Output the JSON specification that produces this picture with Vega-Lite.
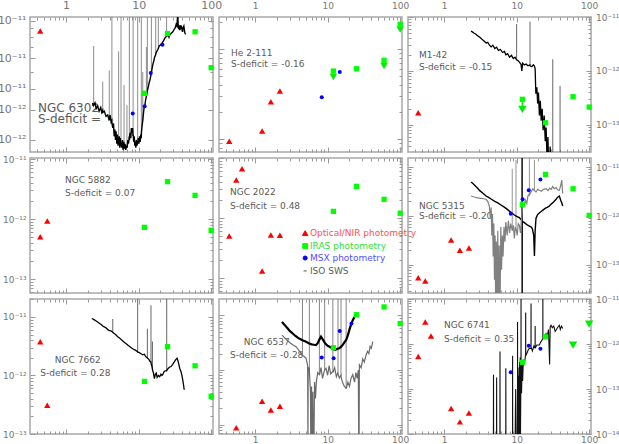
{
"$schema":"https://vega.github.io/schema/vega-lite/v6.json",
"padding":{"left":-4,"top":-2,"right":0,"bottom":0},
"columns":3,
"spacing":{"row":6,"column":6},
"bounds":"flush",
"config":{"view":{"stroke":"#a8a8a8","strokeWidth":1.5},"axis":{"domain":false,"grid":false,"tickColor":"#999999","tickWidth":1,"labelColor":"#777777","labelFont":"DejaVu Sans","labelFontSize":9,"labelFlush":false,"labelOverlap":false},"text":{"font":"DejaVu Sans"}},
"datasets":{
"txt":[
{"p":"6302","k":"lab","l":0.41,"f":3.08e-12,"s":"NGC 6302"},{"p":"6302","k":"lab","l":0.41,"f":2.67e-12,"s":"S-deficit = "},
{"p":"2111","k":"lab","l":0.466,"f":9.0e-13,"s":"He 2-111"},{"p":"2111","k":"lab","l":0.466,"f":6.8e-13,"s":"S-deficit = -0.16"},
{"p":"M142","k":"lab","l":0.45,"f":1.98e-12,"s":"M1-42"},{"p":"M142","k":"lab","l":0.45,"f":1.19e-12,"s":"S-deficit = -0.15"},
{"p":"5882","k":"lab","l":0.966,"f":4.47e-12,"s":"NGC 5882"},{"p":"5882","k":"lab","l":0.966,"f":2.71e-12,"s":"S-deficit = 0.07"},
{"p":"2022","k":"lab","l":0.45,"f":2.71e-12,"s":"NGC 2022"},{"p":"2022","k":"lab","l":0.45,"f":1.58e-12,"s":"S-deficit = 0.48"},
{"p":"2022","k":"opt","l":5.7,"f":5.6e-13,"s":"Optical/NIR photometry"},{"p":"2022","k":"iras","l":5.7,"f":3.41e-13,"s":"IRAS photometry"},
{"p":"2022","k":"msx","l":5.7,"f":2.15e-13,"s":"MSX photometry"},{"p":"2022","k":"iso","l":5.7,"f":1.31e-13,"s":"ISO SWS"},
{"p":"5315","k":"lab","l":0.45,"f":1.6e-12,"s":"NGC 5315"},{"p":"5315","k":"lab","l":0.45,"f":1.02e-12,"s":"S-deficit = -0.20"},
{"p":"7662","k":"lab","l":0.70,"f":1.87e-12,"s":"NGC 7662"},{"p":"7662","k":"lab","l":0.44,"f":1.12e-12,"s":"S-deficit = 0.28"},
{"p":"6537","k":"lab","l":0.70,"f":3.3e-12,"s":"NGC 6537"},{"p":"6537","k":"lab","l":0.45,"f":1.87e-12,"s":"S-deficit = -0.28"},
{"p":"6741","k":"lab","l":1.0,"f":2.67e-12,"s":"NGC 6741"},{"p":"6741","k":"lab","l":1.0,"f":1.31e-12,"s":"S-deficit = 0.35"}
],
"leg":[{"t":"opt","l":4.9,"f":5.6e-13},{"t":"iras","l":4.9,"f":3.41e-13},{"t":"msx","l":4.9,"f":2.15e-13},{"t":"iso","l":4.9,"f":1.31e-13}],
"lim":[
{"p":"2111","l":12,"f":5.7e-13,"a":4.9e-13},{"p":"2111","l":60,"f":7.5e-13,"a":6.5e-13},{"p":"2111","l":100,"f":1.88e-12,"a":1.65e-12},
{"p":"M142","l":12,"f":2.99e-13,"a":1.95e-13},
{"p":"6741","l":60,"f":9.5e-13,"a":9.5e-13},{"p":"6741","l":100,"f":2.77e-12,"a":2.77e-12}
],
"spk":[
{"p":"6302","l":2.4,"f":3.25e-12,"a":7.1e-12},{"p":"6302","l":3.2,"f":2.95e-12,"a":4.4e-12},{"p":"6302","l":3.94,"f":2.65e-12,"a":5.1e-12},{"p":"6302","l":4.28,"f":2.55e-12,"a":2e-11},{"p":"6302","l":5.3,"f":2.0e-12,"a":6.6e-12},{"p":"6302","l":5.72,"f":1.88e-12,"a":2e-11},{"p":"6302","l":6.3,"f":1.9e-12,"a":4.2e-12},{"p":"6302","l":6.9,"f":1.8e-12,"a":3.2e-12},{"p":"6302","l":7.45,"f":2.05e-12,"a":2e-11},{"p":"6302","l":8.4,"f":2.12e-12,"a":2e-11},{"p":"6302","l":9.7,"f":1.92e-12,"a":2e-11},{"p":"6302","l":10.9,"f":2.1e-12,"a":2e-11},{"p":"6302","l":11.4,"f":2.6e-12,"a":5e-12},{"p":"6302","l":12.8,"f":3.6e-12,"a":7e-12},{"p":"6302","l":13.2,"f":3.87e-12,"a":2e-11},{"p":"6302","l":15.0,"f":4.95e-12,"a":2e-11},{"p":"6302","l":17.2,"f":6.35e-12,"a":2e-11},{"p":"6302","l":18.7,"f":6.9e-12,"a":1.2e-11},{"p":"6302","l":24.3,"f":8.1e-12,"a":1.3e-11},
{"p":"M142","l":10.0,"f":1.6e-12,"a":7.4e-12},{"p":"M142","l":15.3,"f":1.28e-12,"a":8.2e-12},{"p":"M142","l":31.5,"f":1e-14,"a":1.65e-12},{"p":"M142","l":39.7,"f":1e-14,"a":5.3e-13},
{"p":"7662","l":4.4,"f":5.45e-12,"a":9.2e-12},{"p":"7662","l":9.7,"f":2.52e-12,"a":2.5e-11},{"p":"7662","l":13.2,"f":1.98e-12,"a":6.3e-12},{"p":"7662","l":14.8,"f":1.65e-12,"a":1.58e-11},{"p":"7662","l":15.5,"f":1.28e-12,"a":3.8e-12},{"p":"7662","l":24.4,"f":1.21e-12,"a":2.5e-11},
{"p":"5315","l":8.7,"f":5.1e-13,"a":9.2e-12},{"p":"5315","l":9.8,"f":5.2e-13,"a":1.4e-11},{"p":"5315","l":15.0,"f":2.75e-12,"a":1.6e-11},{"p":"5315","l":17.6,"f":3.3e-12,"a":1.4e-11},
{"p":"6537","l":4.5,"f":1.88e-12,"a":2e-11},{"p":"6537","l":5.6,"f":1.0e-12,"a":2e-11},{"p":"6537","l":7.7,"f":8.1e-13,"a":2e-11},{"p":"6537","l":9.1,"f":1.0e-12,"a":2e-11},{"p":"6537","l":11.8,"f":9.2e-13,"a":2e-11},{"p":"6537","l":13.9,"f":8.8e-13,"a":2e-11},{"p":"6537","l":15.3,"f":7.8e-13,"a":2e-11},{"p":"6537","l":18.0,"f":4.6e-13,"a":2e-11}
],
"phot":[
{"p":"6302","t":"opt","l":0.44,"f":8.7e-12},{"p":"6302","t":"iras","l":12,"f":3.75e-12},{"p":"6302","t":"iras","l":25,"f":8.4e-12},{"p":"6302","t":"iras","l":60,"f":8.6e-12},{"p":"6302","t":"iras","l":100,"f":5.3e-12},{"p":"6302","t":"msx","l":8.3,"f":2.86e-12},{"p":"6302","t":"msx","l":12.1,"f":3.15e-12},{"p":"6302","t":"msx","l":14.7,"f":4.93e-12},{"p":"6302","t":"msx","l":21.3,"f":7.22e-12},
{"p":"2111","t":"opt","l":0.44,"f":9.5e-14},{"p":"2111","t":"opt","l":1.25,"f":1.23e-13},{"p":"2111","t":"opt","l":1.65,"f":2.6e-13},{"p":"2111","t":"opt","l":2.2,"f":3.42e-13},{"p":"2111","t":"msx","l":8.3,"f":2.91e-13},{"p":"2111","t":"msx","l":14.7,"f":5.55e-13},{"p":"2111","t":"iras","l":12,"f":5.7e-13},{"p":"2111","t":"iras","l":25,"f":6.05e-13},{"p":"2111","t":"iras","l":60,"f":7.5e-13},{"p":"2111","t":"iras","l":100,"f":1.88e-12},
{"p":"M142","t":"opt","l":0.44,"f":1.69e-13},{"p":"M142","t":"iras","l":12,"f":2.99e-13},{"p":"M142","t":"iras","l":25,"f":1.1e-13},{"p":"M142","t":"iras","l":60,"f":3.34e-13},{"p":"M142","t":"iras","l":100,"f":2.15e-13},
{"p":"5882","t":"opt","l":0.44,"f":5.07e-13},{"p":"5882","t":"opt","l":0.55,"f":9.27e-13},{"p":"5882","t":"iras","l":12,"f":7.27e-13},{"p":"5882","t":"iras","l":25,"f":4.19e-12},{"p":"5882","t":"iras","l":60,"f":2.48e-12},{"p":"5882","t":"iras","l":100,"f":6.48e-13},
{"p":"2022","t":"opt","l":0.44,"f":5.0e-13},{"p":"2022","t":"opt","l":0.55,"f":4.3e-12},{"p":"2022","t":"opt","l":0.66,"f":6.64e-12},{"p":"2022","t":"opt","l":1.25,"f":1.31e-13},{"p":"2022","t":"opt","l":1.65,"f":5.2e-13},{"p":"2022","t":"opt","l":2.2,"f":5.15e-13},{"p":"2022","t":"iras","l":12,"f":1.29e-12},{"p":"2022","t":"iras","l":25,"f":3.37e-12},{"p":"2022","t":"iras","l":60,"f":2.05e-12},{"p":"2022","t":"iras","l":100,"f":1.2e-12},
{"p":"5315","t":"opt","l":0.44,"f":5.5e-14},{"p":"5315","t":"opt","l":0.55,"f":4.7e-14},{"p":"5315","t":"opt","l":1.25,"f":3.24e-13},{"p":"5315","t":"opt","l":1.65,"f":2.0e-13},{"p":"5315","t":"opt","l":2.2,"f":2.22e-13},{"p":"5315","t":"msx","l":8.3,"f":1.11e-12},{"p":"5315","t":"msx","l":12.1,"f":2.19e-12},{"p":"5315","t":"msx","l":14.7,"f":3.35e-12},{"p":"5315","t":"msx","l":21.3,"f":5.6e-12},{"p":"5315","t":"iras","l":12,"f":1.73e-12},{"p":"5315","t":"iras","l":25,"f":7.1e-12},{"p":"5315","t":"iras","l":60,"f":3.6e-12},{"p":"5315","t":"iras","l":100,"f":1.03e-12},
{"p":"7662","t":"opt","l":0.44,"f":3.77e-12},{"p":"7662","t":"opt","l":0.55,"f":3.1e-13},{"p":"7662","t":"iras","l":12,"f":7.9e-13},{"p":"7662","t":"iras","l":25,"f":3.1e-12},{"p":"7662","t":"iras","l":60,"f":1.46e-12},{"p":"7662","t":"iras","l":100,"f":4.4e-13},
{"p":"6537","t":"opt","l":0.55,"f":8.75e-14},{"p":"6537","t":"opt","l":1.25,"f":2.67e-13},{"p":"6537","t":"opt","l":1.65,"f":1.84e-13},{"p":"6537","t":"opt","l":2.2,"f":2.17e-13},{"p":"6537","t":"msx","l":8.3,"f":1.69e-12},{"p":"6537","t":"msx","l":12.1,"f":1.64e-12},{"p":"6537","t":"msx","l":14.7,"f":5.2e-12},{"p":"6537","t":"msx","l":21.3,"f":7.1e-12},{"p":"6537","t":"iras","l":12,"f":2.56e-12},{"p":"6537","t":"iras","l":25,"f":1.03e-11},{"p":"6537","t":"iras","l":60,"f":1.43e-11},{"p":"6537","t":"iras","l":100,"f":7.1e-12},
{"p":"6741","t":"opt","l":0.44,"f":5.25e-13},{"p":"6741","t":"opt","l":0.55,"f":3.1e-12},{"p":"6741","t":"opt","l":0.66,"f":1.5e-12},{"p":"6741","t":"opt","l":1.25,"f":3.67e-14},{"p":"6741","t":"opt","l":1.65,"f":1.86e-14},{"p":"6741","t":"opt","l":2.2,"f":2.94e-14},{"p":"6741","t":"msx","l":8.3,"f":2.36e-13},{"p":"6741","t":"msx","l":12.1,"f":3.73e-13},{"p":"6741","t":"msx","l":14.7,"f":9.2e-13},{"p":"6741","t":"msx","l":21.3,"f":7.8e-13},{"p":"6741","t":"iras","l":12,"f":3.93e-13},{"p":"6741","t":"iras","l":25,"f":1.45e-12}
],
"spec":[
{"p":"6302","s":"a","l":2.33,"f":3.3e-12},{"p":"6302","s":"a","l":2.36,"f":3.15e-12},{"p":"6302","s":"a","l":2.395,"f":3.25e-12},{"p":"6302","s":"a","l":2.405,"f":3.2e-12},{"p":"6302","s":"a","l":2.5,"f":3.3e-12},{"p":"6302","s":"a","l":2.6,"f":3.05e-12},{"p":"6302","s":"a","l":2.73,"f":3.16e-12},{"p":"6302","s":"a","l":2.85,"f":2.95e-12},{"p":"6302","s":"a","l":3.0,"f":3.1e-12},{"p":"6302","s":"a","l":3.1,"f":2.9e-12},{"p":"6302","s":"a","l":3.19,"f":2.98e-12},{"p":"6302","s":"a","l":3.21,"f":2.9e-12},{"p":"6302","s":"a","l":3.37,"f":2.95e-12},{"p":"6302","s":"a","l":3.55,"f":2.75e-12},{"p":"6302","s":"a","l":3.75,"f":2.8e-12},{"p":"6302","s":"a","l":3.93,"f":2.6e-12},{"p":"6302","s":"a","l":3.95,"f":2.65e-12},{"p":"6302","s":"a","l":4.05,"f":2.8e-12},{"p":"6302","s":"a","l":4.17,"f":2.55e-12},{"p":"6302","s":"a","l":4.27,"f":2.6e-12},{"p":"6302","s":"a","l":4.29,"f":2.5e-12},{"p":"6302","s":"a","l":4.4,"f":2.35e-12},{"p":"6302","s":"a","l":4.5,"f":2.5e-12},{"p":"6302","s":"a","l":4.6,"f":2.1e-12},{"p":"6302","s":"a","l":4.7,"f":2.3e-12},{"p":"6302","s":"a","l":4.8,"f":2.0e-12},{"p":"6302","s":"a","l":4.88,"f":2.25e-12},{"p":"6302","s":"a","l":5.0,"f":1.9e-12},{"p":"6302","s":"a","l":5.1,"f":2.15e-12},{"p":"6302","s":"a","l":5.2,"f":1.85e-12},{"p":"6302","s":"a","l":5.29,"f":2.05e-12},{"p":"6302","s":"a","l":5.31,"f":1.9e-12},{"p":"6302","s":"a","l":5.4,"f":2.1e-12},{"p":"6302","s":"a","l":5.5,"f":1.8e-12},{"p":"6302","s":"a","l":5.6,"f":2.05e-12},{"p":"6302","s":"a","l":5.71,"f":1.85e-12},{"p":"6302","s":"a","l":5.73,"f":1.9e-12},{"p":"6302","s":"a","l":5.85,"f":1.8e-12},{"p":"6302","s":"a","l":6.0,"f":2.0e-12},{"p":"6302","s":"a","l":6.1,"f":1.75e-12},{"p":"6302","s":"a","l":6.25,"f":1.95e-12},{"p":"6302","s":"a","l":6.4,"f":1.78e-12},{"p":"6302","s":"a","l":6.5,"f":1.9e-12},{"p":"6302","s":"a","l":6.65,"f":1.75e-12},{"p":"6302","s":"a","l":6.8,"f":1.85e-12},{"p":"6302","s":"a","l":6.95,"f":1.8e-12},{"p":"6302","s":"a","l":7.1,"f":2.0e-12},{"p":"6302","s":"a","l":7.25,"f":1.9e-12},{"p":"6302","s":"a","l":7.43,"f":2.1e-12},{"p":"6302","s":"a","l":7.47,"f":2.0e-12},{"p":"6302","s":"a","l":7.6,"f":2.2e-12},{"p":"6302","s":"a","l":7.8,"f":2.05e-12},{"p":"6302","s":"a","l":7.95,"f":2.35e-12},{"p":"6302","s":"a","l":8.1,"f":2.2e-12},{"p":"6302","s":"a","l":8.25,"f":2.35e-12},{"p":"6302","s":"a","l":8.38,"f":2.1e-12},{"p":"6302","s":"a","l":8.42,"f":2.15e-12},{"p":"6302","s":"a","l":8.55,"f":1.95e-12},{"p":"6302","s":"a","l":8.7,"f":2.1e-12},{"p":"6302","s":"a","l":8.85,"f":1.85e-12},{"p":"6302","s":"a","l":9.0,"f":1.95e-12},{"p":"6302","s":"a","l":9.15,"f":1.8e-12},{"p":"6302","s":"a","l":9.3,"f":2.0e-12},{"p":"6302","s":"a","l":9.5,"f":1.85e-12},{"p":"6302","s":"a","l":9.68,"f":1.95e-12},{"p":"6302","s":"a","l":9.72,"f":1.9e-12},{"p":"6302","s":"a","l":9.9,"f":2.05e-12},{"p":"6302","s":"a","l":10.1,"f":1.9e-12},{"p":"6302","s":"a","l":10.3,"f":2.1e-12},{"p":"6302","s":"a","l":10.5,"f":1.95e-12},{"p":"6302","s":"a","l":10.7,"f":2.15e-12},{"p":"6302","s":"a","l":10.88,"f":2.05e-12},{"p":"6302","s":"a","l":10.92,"f":2.2e-12},{"p":"6302","s":"a","l":11.15,"f":2.4e-12},{"p":"6302","s":"a","l":11.4,"f":2.6e-12},{"p":"6302","s":"a","l":11.65,"f":2.85e-12},{"p":"6302","s":"a","l":11.9,"f":3.09e-12},{"p":"6302","s":"a","l":12.2,"f":3.2e-12},{"p":"6302","s":"a","l":12.5,"f":3.45e-12},{"p":"6302","s":"a","l":12.8,"f":3.6e-12},{"p":"6302","s":"a","l":13.17,"f":3.85e-12},{"p":"6302","s":"a","l":13.23,"f":3.9e-12},{"p":"6302","s":"a","l":13.6,"f":4.1e-12},{"p":"6302","s":"a","l":14.0,"f":4.35e-12},{"p":"6302","s":"a","l":14.35,"f":4.5e-12},{"p":"6302","s":"a","l":14.7,"f":4.75e-12},{"p":"6302","s":"a","l":14.96,"f":4.9e-12},{"p":"6302","s":"a","l":15.04,"f":5.0e-12},{"p":"6302","s":"a","l":15.4,"f":5.3e-12},{"p":"6302","s":"a","l":15.8,"f":5.6e-12},{"p":"6302","s":"a","l":16.2,"f":5.8e-12},{"p":"6302","s":"a","l":16.6,"f":6.1e-12},{"p":"6302","s":"a","l":17.16,"f":6.3e-12},{"p":"6302","s":"a","l":17.24,"f":6.4e-12},{"p":"6302","s":"a","l":17.8,"f":6.6e-12},{"p":"6302","s":"a","l":18.5,"f":6.8e-12},{"p":"6302","s":"a","l":19.2,"f":7.1e-12},{"p":"6302","s":"a","l":20,"f":7.2e-12},{"p":"6302","s":"a","l":21.1,"f":7.4e-12},{"p":"6302","s":"a","l":22,"f":7.6e-12},{"p":"6302","s":"a","l":23,"f":7.9e-12},{"p":"6302","s":"a","l":24.2,"f":8.1e-12},{"p":"6302","s":"a","l":24.4,"f":8.1e-12},{"p":"6302","s":"a","l":25.3,"f":8.3e-12},{"p":"6302","s":"a","l":26.2,"f":8.0e-12},{"p":"6302","s":"a","l":27,"f":8.3e-12},{"p":"6302","s":"a","l":28,"f":8.4e-12},{"p":"6302","s":"a","l":29.6,"f":8.6e-12},{"p":"6302","s":"a","l":31,"f":8.9e-12},{"p":"6302","s":"a","l":32,"f":9.1e-12},{"p":"6302","s":"a","l":32.9,"f":9.5e-12},{"p":"6302","s":"a","l":33.7,"f":9.3e-12},{"p":"6302","s":"a","l":34.4,"f":1.05e-11},{"p":"6302","s":"a","l":34.7,"f":1.15e-11},{"p":"6302","s":"a","l":35.0,"f":9.5e-12},{"p":"6302","s":"a","l":35.6,"f":9.0e-12},{"p":"6302","s":"a","l":36.5,"f":8.9e-12},{"p":"6302","s":"a","l":37.2,"f":9.4e-12},{"p":"6302","s":"a","l":38,"f":9.0e-12},{"p":"6302","s":"a","l":39,"f":9.2e-12},{"p":"6302","s":"a","l":40.2,"f":8.6e-12},{"p":"6302","s":"a","l":41,"f":9.1e-12},{"p":"6302","s":"a","l":42,"f":9.3e-12},{"p":"6302","s":"a","l":43,"f":8.6e-12},{"p":"6302","s":"a","l":43.8,"f":8.4e-12},{"p":"6302","s":"a","l":44.5,"f":8.3e-12},

{"p":"M142","s":"a","l":2.35,"f":5.5e-12},{"p":"M142","s":"a","l":2.45,"f":5.3e-12},{"p":"M142","s":"a","l":2.6,"f":5.0e-12},{"p":"M142","s":"a","l":2.75,"f":4.8e-12},{"p":"M142","s":"a","l":2.9,"f":4.5e-12},{"p":"M142","s":"a","l":3.1,"f":4.2e-12},{"p":"M142","s":"a","l":3.3,"f":3.9e-12},{"p":"M142","s":"a","l":3.55,"f":3.6e-12},{"p":"M142","s":"a","l":3.8,"f":3.3e-12},{"p":"M142","s":"a","l":4.0,"f":3.4e-12},{"p":"M142","s":"a","l":4.2,"f":3.05e-12},{"p":"M142","s":"a","l":4.45,"f":2.8e-12},{"p":"M142","s":"a","l":4.7,"f":3.0e-12},{"p":"M142","s":"a","l":5.0,"f":2.6e-12},{"p":"M142","s":"a","l":5.3,"f":2.75e-12},{"p":"M142","s":"a","l":5.6,"f":2.4e-12},{"p":"M142","s":"a","l":6.0,"f":2.5e-12},{"p":"M142","s":"a","l":6.4,"f":2.2e-12},{"p":"M142","s":"a","l":6.8,"f":2.3e-12},{"p":"M142","s":"a","l":7.1,"f":2.0e-12},{"p":"M142","s":"a","l":7.5,"f":2.1e-12},{"p":"M142","s":"a","l":8.0,"f":1.8e-12},{"p":"M142","s":"a","l":8.5,"f":1.95e-12},{"p":"M142","s":"a","l":9.0,"f":1.7e-12},{"p":"M142","s":"a","l":9.5,"f":1.8e-12},{"p":"M142","s":"a","l":9.97,"f":1.6e-12},{"p":"M142","s":"a","l":10.03,"f":1.6e-12},{"p":"M142","s":"a","l":10.5,"f":1.55e-12},{"p":"M142","s":"a","l":11.0,"f":1.45e-12},{"p":"M142","s":"a","l":11.5,"f":1.32e-12},{"p":"M142","s":"a","l":11.8,"f":1.0e-12},{"p":"M142","s":"a","l":12.1,"f":1.4e-12},{"p":"M142","s":"a","l":12.8,"f":1.3e-12},{"p":"M142","s":"a","l":13.5,"f":1.35e-12},{"p":"M142","s":"a","l":14.3,"f":1.25e-12},{"p":"M142","s":"a","l":15.25,"f":1.3e-12},{"p":"M142","s":"a","l":15.35,"f":1.25e-12},{"p":"M142","s":"a","l":16.2,"f":1.2e-12},{"p":"M142","s":"a","l":17.0,"f":1.3e-12},{"p":"M142","s":"a","l":17.6,"f":1.23e-12},{"p":"M142","s":"a","l":18.0,"f":1.1e-12},{"p":"M142","s":"a","l":18.4,"f":3.8e-13},{"p":"M142","s":"a","l":19.0,"f":5e-13},{"p":"M142","s":"a","l":19.5,"f":2.5e-13},{"p":"M142","s":"a","l":20.0,"f":4e-13},{"p":"M142","s":"a","l":20.6,"f":1.5e-13},{"p":"M142","s":"a","l":21.2,"f":2.8e-13},{"p":"M142","s":"a","l":21.8,"f":1.2e-13},{"p":"M142","s":"a","l":22.5,"f":2e-13},{"p":"M142","s":"a","l":23.2,"f":8e-14},{"p":"M142","s":"a","l":24.0,"f":1.5e-13},{"p":"M142","s":"a","l":24.8,"f":5e-14},{"p":"M142","s":"a","l":25.5,"f":9e-14},{"p":"M142","s":"a","l":26.3,"f":2e-14},{"p":"M142","s":"a","l":27,"f":6e-14},{"p":"M142","s":"a","l":28,"f":1e-14},{"p":"M142","s":"a","l":29,"f":4e-14},{"p":"M142","s":"a","l":30,"f":1e-14},{"p":"M142","s":"a","l":33,"f":3e-14},{"p":"M142","s":"a","l":34.5,"f":1e-14},{"p":"M142","s":"a","l":36,"f":2.5e-14},{"p":"M142","s":"a","l":38,"f":1e-14},{"p":"M142","s":"a","l":41,"f":1e-14},

{"p":"7662","s":"a","l":2.26,"f":9.35e-12},{"p":"7662","s":"a","l":2.35,"f":9.2e-12},{"p":"7662","s":"a","l":2.45,"f":8.9e-12},{"p":"7662","s":"a","l":2.6,"f":8.5e-12},{"p":"7662","s":"a","l":2.75,"f":8.1e-12},{"p":"7662","s":"a","l":2.9,"f":7.7e-12},{"p":"7662","s":"a","l":3.05,"f":7.4e-12},{"p":"7662","s":"a","l":3.2,"f":7.0e-12},{"p":"7662","s":"a","l":3.4,"f":6.7e-12},{"p":"7662","s":"a","l":3.6,"f":6.4e-12},{"p":"7662","s":"a","l":3.8,"f":6.0e-12},{"p":"7662","s":"a","l":4.0,"f":5.8e-12},{"p":"7662","s":"a","l":4.2,"f":5.7e-12},{"p":"7662","s":"a","l":4.38,"f":5.5e-12},{"p":"7662","s":"a","l":4.42,"f":5.4e-12},{"p":"7662","s":"a","l":4.6,"f":5.2e-12},{"p":"7662","s":"a","l":4.8,"f":5.0e-12},{"p":"7662","s":"a","l":5.0,"f":4.75e-12},{"p":"7662","s":"a","l":5.25,"f":4.5e-12},{"p":"7662","s":"a","l":5.5,"f":4.3e-12},{"p":"7662","s":"a","l":5.8,"f":4.05e-12},{"p":"7662","s":"a","l":6.1,"f":3.85e-12},{"p":"7662","s":"a","l":6.4,"f":3.65e-12},{"p":"7662","s":"a","l":6.8,"f":3.45e-12},{"p":"7662","s":"a","l":7.2,"f":3.25e-12},{"p":"7662","s":"a","l":7.6,"f":3.1e-12},{"p":"7662","s":"a","l":8.0,"f":2.95e-12},{"p":"7662","s":"a","l":8.5,"f":2.8e-12},{"p":"7662","s":"a","l":9.0,"f":2.7e-12},{"p":"7662","s":"a","l":9.68,"f":2.55e-12},{"p":"7662","s":"a","l":9.72,"f":2.5e-12},{"p":"7662","s":"a","l":10.2,"f":2.45e-12},{"p":"7662","s":"a","l":10.8,"f":2.35e-12},{"p":"7662","s":"a","l":11.4,"f":2.25e-12},{"p":"7662","s":"a","l":12.0,"f":2.3e-12},{"p":"7662","s":"a","l":12.5,"f":2.1e-12},{"p":"7662","s":"a","l":13.17,"f":2.0e-12},{"p":"7662","s":"a","l":13.23,"f":1.97e-12},{"p":"7662","s":"a","l":13.8,"f":1.9e-12},{"p":"7662","s":"a","l":14.3,"f":1.75e-12},{"p":"7662","s":"a","l":14.77,"f":1.7e-12},{"p":"7662","s":"a","l":14.83,"f":1.6e-12},{"p":"7662","s":"a","l":15.2,"f":1.45e-12},{"p":"7662","s":"a","l":15.47,"f":1.3e-12},{"p":"7662","s":"a","l":15.53,"f":1.25e-12},{"p":"7662","s":"a","l":16.0,"f":1.1e-12},{"p":"7662","s":"a","l":16.5,"f":8.8e-13},{"p":"7662","s":"a","l":17.0,"f":1.05e-12},{"p":"7662","s":"a","l":17.5,"f":1.1e-12},{"p":"7662","s":"a","l":18.0,"f":9.3e-13},{"p":"7662","s":"a","l":18.7,"f":1.0e-12},{"p":"7662","s":"a","l":19.5,"f":9.5e-13},{"p":"7662","s":"a","l":20.3,"f":1.05e-12},{"p":"7662","s":"a","l":21.0,"f":1.0e-12},{"p":"7662","s":"a","l":21.5,"f":1.03e-12},{"p":"7662","s":"a","l":22.3,"f":1.15e-12},{"p":"7662","s":"a","l":23.2,"f":1.2e-12},{"p":"7662","s":"a","l":24.35,"f":1.2e-12},{"p":"7662","s":"a","l":24.45,"f":1.22e-12},{"p":"7662","s":"a","l":25.3,"f":1.3e-12},{"p":"7662","s":"a","l":26.5,"f":1.38e-12},{"p":"7662","s":"a","l":28,"f":1.42e-12},{"p":"7662","s":"a","l":29.5,"f":1.55e-12},{"p":"7662","s":"a","l":31,"f":1.7e-12},{"p":"7662","s":"a","l":32.3,"f":1.85e-12},{"p":"7662","s":"a","l":33.9,"f":1.97e-12},{"p":"7662","s":"a","l":35,"f":1.75e-12},{"p":"7662","s":"a","l":36,"f":1.5e-12},{"p":"7662","s":"a","l":37,"f":1.3e-12},{"p":"7662","s":"a","l":38.3,"f":1.17e-12},{"p":"7662","s":"a","l":39.5,"f":1.0e-12},{"p":"7662","s":"a","l":40.5,"f":8.5e-13},{"p":"7662","s":"a","l":41.5,"f":7e-13},{"p":"7662","s":"a","l":42.5,"f":5.7e-13},

{"p":"5315","s":"a","l":2.35,"f":4.94e-12},{"p":"5315","s":"a","l":2.5,"f":4.6e-12},{"p":"5315","s":"a","l":2.7,"f":4.1e-12},{"p":"5315","s":"a","l":2.9,"f":3.7e-12},{"p":"5315","s":"a","l":3.1,"f":3.3e-12},{"p":"5315","s":"a","l":3.4,"f":2.95e-12},{"p":"5315","s":"a","l":3.79,"f":2.56e-12},{"p":"5315","s":"a","l":4.1,"f":2.4e-12},{"p":"5315","s":"a","l":4.5,"f":2.2e-12},{"p":"5315","s":"a","l":5.0,"f":2.0e-12},{"p":"5315","s":"a","l":5.5,"f":1.85e-12},{"p":"5315","s":"a","l":6.0,"f":1.7e-12},{"p":"5315","s":"a","l":6.6,"f":1.55e-12},{"p":"5315","s":"a","l":7.3,"f":1.4e-12},{"p":"5315","s":"a","l":7.95,"f":1.26e-12},{"p":"5315","s":"a","l":8.6,"f":1.15e-12},{"p":"5315","s":"a","l":9.3,"f":1.05e-12},{"p":"5315","s":"a","l":10.0,"f":9.8e-13},{"p":"5315","s":"a","l":10.9,"f":9.25e-13},{"p":"5315","s":"a","l":11.5,"f":8.5e-13},{"p":"5315","s":"a","l":11.88,"f":8e-13},{"p":"5315","s":"a","l":11.9,"f":2e-11},{"p":"5315","s":"a","l":11.92,"f":1e-14},{"p":"5315","s":"a","l":11.94,"f":8e-13},{"p":"5315","s":"a","l":12.5,"f":7.5e-13},{"p":"5315","s":"a","l":13.3,"f":7e-13},{"p":"5315","s":"a","l":14.2,"f":6.5e-13},{"p":"5315","s":"a","l":15.0,"f":6.25e-13},{"p":"5315","s":"a","l":15.8,"f":6e-13},{"p":"5315","s":"a","l":16.5,"f":5.5e-13},{"p":"5315","s":"a","l":17.2,"f":4e-13},{"p":"5315","s":"a","l":17.6,"f":1.53e-13},{"p":"5315","s":"a","l":18.0,"f":5e-13},{"p":"5315","s":"a","l":18.5,"f":9e-13},{"p":"5315","s":"a","l":19.5,"f":1.08e-12},{"p":"5315","s":"a","l":20.5,"f":1.15e-12},{"p":"5315","s":"a","l":22,"f":1.25e-12},{"p":"5315","s":"a","l":23.5,"f":1.35e-12},{"p":"5315","s":"a","l":25,"f":1.45e-12},{"p":"5315","s":"a","l":26.5,"f":1.5e-12},{"p":"5315","s":"a","l":28.2,"f":1.6e-12},{"p":"5315","s":"a","l":30,"f":1.75e-12},{"p":"5315","s":"a","l":32,"f":1.9e-12},{"p":"5315","s":"a","l":33.5,"f":2.05e-12},{"p":"5315","s":"a","l":35,"f":2.2e-12},{"p":"5315","s":"a","l":36.5,"f":2.4e-12},{"p":"5315","s":"a","l":38.8,"f":2.56e-12},{"p":"5315","s":"a","l":40.5,"f":2.1e-12},{"p":"5315","s":"a","l":42,"f":1.85e-12},{"p":"5315","s":"a","l":43.2,"f":1.6e-12},

{"p":"5315","s":"b","l":2.35,"f":2.56e-12},{"p":"5315","s":"b","l":2.6,"f":2.45e-12},{"p":"5315","s":"b","l":2.9,"f":2.35e-12},{"p":"5315","s":"b","l":3.2,"f":2.3e-12},{"p":"5315","s":"b","l":3.5,"f":2.25e-12},{"p":"5315","s":"b","l":3.79,"f":2.2e-12},{"p":"5315","s":"b","l":4.0,"f":2.0e-12},{"p":"5315","s":"b","l":4.2,"f":1.6e-12},{"p":"5315","s":"b","l":4.35,"f":9e-13},{"p":"5315","s":"b","l":4.45,"f":1.5e-12},{"p":"5315","s":"b","l":4.55,"f":4e-13},{"p":"5315","s":"b","l":4.65,"f":1.1e-12},{"p":"5315","s":"b","l":4.75,"f":1.5e-13},{"p":"5315","s":"b","l":4.85,"f":7e-13},{"p":"5315","s":"b","l":4.95,"f":5e-14},{"p":"5315","s":"b","l":5.05,"f":4e-13},{"p":"5315","s":"b","l":5.15,"f":1e-14},{"p":"5315","s":"b","l":5.25,"f":3e-13},{"p":"5315","s":"b","l":5.35,"f":1e-14},{"p":"5315","s":"b","l":5.5,"f":5e-13},{"p":"5315","s":"b","l":5.6,"f":1e-14},{"p":"5315","s":"b","l":5.75,"f":2.5e-13},{"p":"5315","s":"b","l":5.9,"f":1e-14},{"p":"5315","s":"b","l":6.05,"f":6e-13},{"p":"5315","s":"b","l":6.2,"f":8e-14},{"p":"5315","s":"b","l":6.35,"f":4e-13},{"p":"5315","s":"b","l":6.5,"f":1.5e-13},{"p":"5315","s":"b","l":6.7,"f":6e-13},{"p":"5315","s":"b","l":6.9,"f":3e-13},{"p":"5315","s":"b","l":7.1,"f":7.5e-13},{"p":"5315","s":"b","l":7.4,"f":4e-13},{"p":"5315","s":"b","l":7.7,"f":8e-13},{"p":"5315","s":"b","l":8.0,"f":4.5e-13},{"p":"5315","s":"b","l":8.3,"f":7e-13},{"p":"5315","s":"b","l":8.68,"f":5.2e-13},{"p":"5315","s":"b","l":8.72,"f":5e-13},{"p":"5315","s":"b","l":9.0,"f":6.5e-13},{"p":"5315","s":"b","l":9.3,"f":3.5e-13},{"p":"5315","s":"b","l":9.6,"f":6e-13},{"p":"5315","s":"b","l":9.78,"f":5e-13},{"p":"5315","s":"b","l":9.82,"f":5.5e-13},{"p":"5315","s":"b","l":10.2,"f":4e-13},{"p":"5315","s":"b","l":10.5,"f":7e-13},{"p":"5315","s":"b","l":10.9,"f":6.5e-13},{"p":"5315","s":"b","l":11.3,"f":4.5e-13},{"p":"5315","s":"b","l":11.7,"f":9e-13},{"p":"5315","s":"b","l":12.1,"f":1.9e-12},{"p":"5315","s":"b","l":12.6,"f":1.6e-12},{"p":"5315","s":"b","l":13.2,"f":2.1e-12},{"p":"5315","s":"b","l":13.8,"f":1.8e-12},{"p":"5315","s":"b","l":14.3,"f":2.56e-12},{"p":"5315","s":"b","l":14.98,"f":2.8e-12},{"p":"5315","s":"b","l":15.02,"f":2.7e-12},{"p":"5315","s":"b","l":15.8,"f":3.1e-12},{"p":"5315","s":"b","l":16.7,"f":3.6e-12},{"p":"5315","s":"b","l":17.58,"f":3.3e-12},{"p":"5315","s":"b","l":17.62,"f":3.3e-12},{"p":"5315","s":"b","l":18.5,"f":3.1e-12},{"p":"5315","s":"b","l":19.5,"f":3.5e-12},{"p":"5315","s":"b","l":20.6,"f":3.35e-12},{"p":"5315","s":"b","l":22,"f":3.2e-12},{"p":"5315","s":"b","l":23.5,"f":3.5e-12},{"p":"5315","s":"b","l":25.5,"f":3.6e-12},{"p":"5315","s":"b","l":27,"f":3.3e-12},{"p":"5315","s":"b","l":28.5,"f":3.7e-12},{"p":"5315","s":"b","l":30,"f":3.5e-12},{"p":"5315","s":"b","l":31.5,"f":4.0e-12},{"p":"5315","s":"b","l":33,"f":3.6e-12},{"p":"5315","s":"b","l":35,"f":3.8e-12},{"p":"5315","s":"b","l":37,"f":3.4e-12},{"p":"5315","s":"b","l":38.8,"f":3.35e-12},{"p":"5315","s":"b","l":40.5,"f":4.2e-12},{"p":"5315","s":"b","l":41.9,"f":5.4e-12},{"p":"5315","s":"b","l":42.6,"f":3.8e-12},{"p":"5315","s":"b","l":43.2,"f":2.9e-12},

{"p":"6537","s":"a","l":2.35,"f":7.6e-12},{"p":"6537","s":"a","l":2.45,"f":7.1e-12},{"p":"6537","s":"a","l":2.6,"f":6.5e-12},{"p":"6537","s":"a","l":2.8,"f":5.8e-12},{"p":"6537","s":"a","l":3.0,"f":5.2e-12},{"p":"6537","s":"a","l":3.3,"f":4.67e-12},{"p":"6537","s":"a","l":3.6,"f":4.2e-12},{"p":"6537","s":"a","l":4.0,"f":3.8e-12},{"p":"6537","s":"a","l":4.5,"f":3.5e-12},{"p":"6537","s":"a","l":5.04,"f":3.3e-12},{"p":"6537","s":"a","l":5.5,"f":3.1e-12},{"p":"6537","s":"a","l":6.0,"f":2.95e-12},{"p":"6537","s":"a","l":6.5,"f":2.9e-12},{"p":"6537","s":"a","l":6.9,"f":2.87e-12},{"p":"6537","s":"a","l":7.3,"f":3.1e-12},{"p":"6537","s":"a","l":7.7,"f":3.6e-12},{"p":"6537","s":"a","l":8.1,"f":4.07e-12},{"p":"6537","s":"a","l":8.6,"f":3.6e-12},{"p":"6537","s":"a","l":9.2,"f":3.1e-12},{"p":"6537","s":"a","l":9.9,"f":2.8e-12},{"p":"6537","s":"a","l":10.6,"f":2.67e-12},{"p":"6537","s":"a","l":11.3,"f":2.55e-12},{"p":"6537","s":"a","l":12.0,"f":2.4e-12},{"p":"6537","s":"a","l":12.8,"f":2.35e-12},{"p":"6537","s":"a","l":13.6,"f":2.45e-12},{"p":"6537","s":"a","l":14.5,"f":2.5e-12},{"p":"6537","s":"a","l":15.5,"f":2.7e-12},{"p":"6537","s":"a","l":16.5,"f":3.0e-12},{"p":"6537","s":"a","l":17.3,"f":3.3e-12},{"p":"6537","s":"a","l":18,"f":3.54e-12},{"p":"6537","s":"a","l":19,"f":4.3e-12},{"p":"6537","s":"a","l":20,"f":5.5e-12},{"p":"6537","s":"a","l":21,"f":6.8e-12},{"p":"6537","s":"a","l":22.2,"f":8.2e-12},{"p":"6537","s":"a","l":23.4,"f":9.3e-12},

{"p":"6537","s":"b","l":2.35,"f":4.36e-12},{"p":"6537","s":"b","l":2.5,"f":4.0e-12},{"p":"6537","s":"b","l":2.7,"f":3.6e-12},{"p":"6537","s":"b","l":3.0,"f":3.2e-12},{"p":"6537","s":"b","l":3.3,"f":2.9e-12},{"p":"6537","s":"b","l":3.67,"f":2.67e-12},{"p":"6537","s":"b","l":4.0,"f":2.3e-12},{"p":"6537","s":"b","l":4.3,"f":2.0e-12},{"p":"6537","s":"b","l":4.48,"f":1.9e-12},{"p":"6537","s":"b","l":4.52,"f":1.85e-12},{"p":"6537","s":"b","l":4.8,"f":1.75e-12},{"p":"6537","s":"b","l":5.04,"f":1.64e-12},{"p":"6537","s":"b","l":5.3,"f":1.2e-12},{"p":"6537","s":"b","l":5.35,"f":5e-14},{"p":"6537","s":"b","l":5.4,"f":1.1e-12},{"p":"6537","s":"b","l":5.58,"f":1.07e-12},{"p":"6537","s":"b","l":5.62,"f":9e-13},{"p":"6537","s":"b","l":5.8,"f":4e-13},{"p":"6537","s":"b","l":5.9,"f":1e-14},{"p":"6537","s":"b","l":6.0,"f":5e-13},{"p":"6537","s":"b","l":6.1,"f":1e-14},{"p":"6537","s":"b","l":6.25,"f":4e-13},{"p":"6537","s":"b","l":6.4,"f":1e-14},{"p":"6537","s":"b","l":6.6,"f":6e-13},{"p":"6537","s":"b","l":6.8,"f":3e-13},{"p":"6537","s":"b","l":7.0,"f":6.2e-13},{"p":"6537","s":"b","l":7.3,"f":9e-13},{"p":"6537","s":"b","l":7.68,"f":8.2e-13},{"p":"6537","s":"b","l":7.72,"f":8e-13},{"p":"6537","s":"b","l":8.1,"f":1.1e-12},{"p":"6537","s":"b","l":8.5,"f":7e-13},{"p":"6537","s":"b","l":9.08,"f":1.0e-12},{"p":"6537","s":"b","l":9.12,"f":1.0e-12},{"p":"6537","s":"b","l":9.5,"f":1.07e-12},{"p":"6537","s":"b","l":10.0,"f":8e-13},{"p":"6537","s":"b","l":10.5,"f":1.2e-12},{"p":"6537","s":"b","l":11.0,"f":8.5e-13},{"p":"6537","s":"b","l":11.78,"f":9.4e-13},{"p":"6537","s":"b","l":11.82,"f":9e-13},{"p":"6537","s":"b","l":12.5,"f":1.1e-12},{"p":"6537","s":"b","l":13.2,"f":7.5e-13},{"p":"6537","s":"b","l":13.88,"f":9e-13},{"p":"6537","s":"b","l":13.92,"f":8.5e-13},{"p":"6537","s":"b","l":14.5,"f":7.1e-13},{"p":"6537","s":"b","l":15.28,"f":8e-13},{"p":"6537","s":"b","l":15.32,"f":7.5e-13},{"p":"6537","s":"b","l":16,"f":6e-13},{"p":"6537","s":"b","l":17,"f":5e-13},{"p":"6537","s":"b","l":17.98,"f":4.67e-13},{"p":"6537","s":"b","l":18.02,"f":4.5e-13},{"p":"6537","s":"b","l":19,"f":6e-13},{"p":"6537","s":"b","l":20,"f":5e-13},{"p":"6537","s":"b","l":21,"f":7e-13},{"p":"6537","s":"b","l":22.2,"f":8.2e-13},{"p":"6537","s":"b","l":23.5,"f":6e-13},{"p":"6537","s":"b","l":24.5,"f":9e-13},{"p":"6537","s":"b","l":25.5,"f":7e-13},{"p":"6537","s":"b","l":26.5,"f":1.0e-12},{"p":"6537","s":"b","l":27.0,"f":1e-14},{"p":"6537","s":"b","l":27.4,"f":1.24e-12},{"p":"6537","s":"b","l":29,"f":1.1e-12},{"p":"6537","s":"b","l":30.5,"f":1.6e-12},{"p":"6537","s":"b","l":32,"f":1.4e-12},{"p":"6537","s":"b","l":33.9,"f":1.89e-12},{"p":"6537","s":"b","l":35.5,"f":2.2e-12},{"p":"6537","s":"b","l":37,"f":2.0e-12},{"p":"6537","s":"b","l":38.5,"f":2.7e-12},{"p":"6537","s":"b","l":40,"f":2.5e-12},{"p":"6537","s":"b","l":41.9,"f":3.3e-12},

{"p":"6741","s":"a","l":4.6,"f":5e-15},{"p":"6741","s":"a","l":4.78,"f":5e-15},{"p":"6741","s":"a","l":4.8,"f":2.07e-13},{"p":"6741","s":"a","l":4.82,"f":5e-15},{"p":"6741","s":"a","l":5.28,"f":5e-15},{"p":"6741","s":"a","l":5.3,"f":1.8e-13},{"p":"6741","s":"a","l":5.32,"f":5e-15},{"p":"6741","s":"a","l":5.88,"f":5e-15},{"p":"6741","s":"a","l":5.9,"f":6.8e-13},{"p":"6741","s":"a","l":5.92,"f":5e-15},{"p":"6741","s":"a","l":7.08,"f":5e-15},{"p":"6741","s":"a","l":7.1,"f":2.9e-13},{"p":"6741","s":"a","l":7.12,"f":5e-15},{"p":"6741","s":"a","l":8.78,"f":5e-15},{"p":"6741","s":"a","l":8.8,"f":5.5e-13},{"p":"6741","s":"a","l":8.82,"f":5e-15},{"p":"6741","s":"a","l":9.5,"f":5e-15},{"p":"6741","s":"a","l":9.7,"f":1e-13},{"p":"6741","s":"a","l":9.9,"f":5e-15},{"p":"6741","s":"a","l":10.28,"f":5e-15},{"p":"6741","s":"a","l":10.3,"f":3.1e-12},{"p":"6741","s":"a","l":10.32,"f":5e-15},{"p":"6741","s":"a","l":10.5,"f":2e-13},{"p":"6741","s":"a","l":10.6,"f":5e-15},{"p":"6741","s":"a","l":10.8,"f":3e-13},{"p":"6741","s":"a","l":10.9,"f":5e-15},{"p":"6741","s":"a","l":11.0,"f":4e-13},{"p":"6741","s":"a","l":11.1,"f":1e-14},{"p":"6741","s":"a","l":11.2,"f":5e-13},{"p":"6741","s":"a","l":11.3,"f":1e-14},{"p":"6741","s":"a","l":11.48,"f":2.9e-13},{"p":"6741","s":"a","l":11.5,"f":1.5e-11},{"p":"6741","s":"a","l":11.52,"f":2.9e-13},{"p":"6741","s":"a","l":11.7,"f":8e-14},{"p":"6741","s":"a","l":11.9,"f":3.5e-13},{"p":"6741","s":"a","l":12.1,"f":1.5e-13},{"p":"6741","s":"a","l":12.4,"f":4.5e-13},{"p":"6741","s":"a","l":12.8,"f":3.5e-13},{"p":"6741","s":"a","l":13.3,"f":6e-13},{"p":"6741","s":"a","l":13.33,"f":5e-12},{"p":"6741","s":"a","l":13.36,"f":5.5e-13},{"p":"6741","s":"a","l":14,"f":6.5e-13},{"p":"6741","s":"a","l":14.5,"f":7.5e-13},{"p":"6741","s":"a","l":15.0,"f":8.0e-13},{"p":"6741","s":"a","l":15.77,"f":8e-13},{"p":"6741","s":"a","l":15.8,"f":7.9e-12},{"p":"6741","s":"a","l":15.83,"f":8.5e-13},{"p":"6741","s":"a","l":16.5,"f":7e-13},{"p":"6741","s":"a","l":17.3,"f":9e-13},{"p":"6741","s":"a","l":17.98,"f":8e-13},{"p":"6741","s":"a","l":18,"f":2.5e-12},{"p":"6741","s":"a","l":18.02,"f":8e-13},{"p":"6741","s":"a","l":19,"f":9.5e-13},{"p":"6741","s":"a","l":20.6,"f":9.5e-13},{"p":"6741","s":"a","l":21.5,"f":1.1e-12},{"p":"6741","s":"a","l":22.98,"f":1.3e-12},{"p":"6741","s":"a","l":23,"f":1.5e-11},{"p":"6741","s":"a","l":23.02,"f":1.3e-12},{"p":"6741","s":"a","l":24.2,"f":1.4e-12},{"p":"6741","s":"a","l":25.5,"f":1.71e-12},{"p":"6741","s":"a","l":26.5,"f":1.5e-12},{"p":"6741","s":"a","l":27.5,"f":2.1e-12},{"p":"6741","s":"a","l":28.5,"f":3.5e-13},{"p":"6741","s":"a","l":29,"f":2.4e-12},{"p":"6741","s":"a","l":29.8,"f":2.62e-12},{"p":"6741","s":"a","l":31,"f":2.3e-12},{"p":"6741","s":"a","l":32.5,"f":2.5e-12},{"p":"6741","s":"a","l":34,"f":1.9e-12},{"p":"6741","s":"a","l":35,"f":2.04e-12},{"p":"6741","s":"a","l":36.5,"f":2.3e-12},{"p":"6741","s":"a","l":38.8,"f":2.62e-12},{"p":"6741","s":"a","l":40,"f":2.1e-12},{"p":"6741","s":"a","l":41.5,"f":2.5e-12},{"p":"6741","s":"a","l":43.2,"f":2.2e-12}
]
},
"concat":[
{"width":183,"height":135,
 "resolve":{"axis":{"x":"independent","y":"independent"},"scale":{"color":"independent","shape":"independent","size":"independent","strokeWidth":"independent"}},
 "layer":[
  {"data":{"name":"txt"},"transform":[{"filter":"datum.p=='6302'"}],"mark":{"type":"text","align":"left","baseline":"middle","fontSize":12},
   "encoding":{"x":{"field":"l","type":"quantitative","scale":{"type":"log","domain":[0.318,106],"nice":false},"axis":{"orient":"bottom","values":[1,10,100],"tickSize":-5,"labels":false,"title":null}},
    "y":{"field":"f","type":"quantitative","scale":{"type":"log","domain":[1.7e-12,1.05e-11],"nice":false},"axis":{"orient":"left","values":[1e-11,6e-12,4e-12,3e-12,2e-12],"tickSize":-5,"labels":true,"labelFontSize":11,"labelPadding":9,"labelExpr":"datum.value > 3.5e-12 ? '10⁻¹¹' : '10⁻¹²'","title":null}},
    "text":{"field":"s"},
    "color":{"field":"k","type":"nominal","scale":{"domain":["lab","opt","iras","msx","iso"],"range":["#5a5a5a","#ff5050","#33dd33","#5050ff","#5a5a5a"]},"legend":null}}},
  {"data":{"name":"spk"},"transform":[{"filter":"datum.p=='6302'"}],"mark":{"type":"rule","color":"#808080","strokeWidth":0.9,"clip":true},
   "encoding":{"x":{"field":"l","type":"quantitative","scale":{"type":"log","domain":[0.318,106],"nice":false},"axis":null},
    "y":{"field":"f","type":"quantitative","scale":{"type":"log","domain":[1.7e-12,1.05e-11],"nice":false},"axis":null},"y2":{"field":"a"}}},
  {"data":{"name":"spec"},"transform":[{"filter":"datum.p=='6302'"}],"mark":{"type":"line","clip":true},
   "encoding":{"x":{"field":"l","type":"quantitative","scale":{"type":"log","domain":[0.318,106],"nice":false},"axis":{"orient":"bottom","values":[0.4,0.5,0.6,0.7,0.8,0.9,2,3,4,5,6,7,8,9,20,30,40,50,60,70,80,90],"tickSize":-3,"labels":false,"title":null}},
    "y":{"field":"f","type":"quantitative","scale":{"type":"log","domain":[1.7e-12,1.05e-11],"nice":false},"axis":{"orient":"left","values":[9e-12,8e-12,7e-12,5e-12],"tickSize":-3,"labels":false,"title":null}},
    "color":{"field":"s","type":"nominal","scale":{"domain":["a","b"],"range":["#000000","#777777"]},"legend":null},
    "strokeWidth":{"field":"s","type":"nominal","scale":{"domain":["a","b"],"range":[1.4,1.0]},"legend":null}}},
  {"data":{"name":"lim"},"transform":[{"filter":"datum.p=='6302'"}],"mark":{"type":"rule","color":"#00ee00","strokeWidth":1.5},
   "encoding":{"x":{"field":"l","type":"quantitative","scale":{"type":"log","domain":[0.318,106],"nice":false},"axis":{"orient":"top","values":[1,10,100],"tickSize":-5,"labels":true,"labelFontSize":11,"labelBaseline":"middle","labelPadding":17,"labelExpr":"datum.value < 5 ? '1' : datum.value < 50 ? '10' : '100'","title":null}},
    "y":{"field":"f","type":"quantitative","scale":{"type":"log","domain":[1.7e-12,1.05e-11],"nice":false},"axis":{"orient":"right","values":[1e-11,6e-12,4e-12,3e-12,2e-12],"tickSize":-5,"labels":false,"title":null}},
    "y2":{"field":"a"}}},
  {"data":{"name":"lim"},"transform":[{"filter":"datum.p=='6302'"}],"mark":{"type":"point","shape":"triangle-down","filled":true,"color":"#00ee00","size":50,"opacity":1},
   "encoding":{"x":{"field":"l","type":"quantitative","scale":{"type":"log","domain":[0.318,106],"nice":false},"axis":{"orient":"top","values":[0.4,0.5,0.6,0.7,0.8,0.9,2,3,4,5,6,7,8,9,20,30,40,50,60,70,80,90],"tickSize":-3,"labels":false,"title":null}},
    "y":{"field":"a","type":"quantitative","scale":{"type":"log","domain":[1.7e-12,1.05e-11],"nice":false},"axis":{"orient":"right","values":[9e-12,8e-12,7e-12,5e-12],"tickSize":-3,"labels":false,"title":null}}}},
  {"data":{"name":"phot"},"transform":[{"filter":"datum.p=='6302'"}],"mark":{"type":"point","filled":true,"opacity":1},
   "encoding":{"x":{"field":"l","type":"quantitative","scale":{"type":"log","domain":[0.318,106],"nice":false},"axis":null},
    "y":{"field":"f","type":"quantitative","scale":{"type":"log","domain":[1.7e-12,1.05e-11],"nice":false},"axis":null},
    "shape":{"field":"t","type":"nominal","scale":{"domain":["opt","iras","msx"],"range":["triangle-up","square","circle"]},"legend":null},
    "color":{"field":"t","type":"nominal","scale":{"domain":["opt","iras","msx"],"range":["#ff0000","#00ff00","#0000ff"]},"legend":null},
    "size":{"field":"t","type":"nominal","scale":{"domain":["opt","iras","msx"],"range":[40,16,20]},"legend":null}}}
 ]},
{"width":183,"height":135,
 "resolve":{"axis":{"x":"independent","y":"independent"},"scale":{"color":"independent","shape":"independent","size":"independent","strokeWidth":"independent"}},
 "layer":[
  {"data":{"name":"txt"},"transform":[{"filter":"datum.p=='2111'"}],"mark":{"type":"text","align":"left","baseline":"middle","fontSize":9},
   "encoding":{"x":{"field":"l","type":"quantitative","scale":{"type":"log","domain":[0.318,106],"nice":false},"axis":{"orient":"bottom","values":[1,10,100],"tickSize":-5,"labels":false,"title":null}},
    "y":{"field":"f","type":"quantitative","scale":{"type":"log","domain":[7.2e-14,2.27e-12],"nice":false},"axis":{"orient":"left","values":[1e-12,1e-13],"tickSize":-5,"labels":false,"title":null}},
    "text":{"field":"s"},
    "color":{"field":"k","type":"nominal","scale":{"domain":["lab","opt","iras","msx","iso"],"range":["#5a5a5a","#ff5050","#33dd33","#5050ff","#5a5a5a"]},"legend":null}}},
  {"data":{"name":"spec"},"transform":[{"filter":"datum.p=='2111'"}],"mark":{"type":"line","strokeWidth":0.8,"clip":true},
   "encoding":{"x":{"field":"l","type":"quantitative","scale":{"type":"log","domain":[0.318,106],"nice":false},"axis":{"orient":"bottom","values":[0.4,0.5,0.6,0.7,0.8,0.9,2,3,4,5,6,7,8,9,20,30,40,50,60,70,80,90],"tickSize":-3,"labels":false,"title":null}},
    "y":{"field":"f","type":"quantitative","scale":{"type":"log","domain":[7.2e-14,2.27e-12],"nice":false},"axis":{"orient":"left","values":[2e-12,9e-13,8e-13,7e-13,6e-13,5e-13,4e-13,3e-13,2e-13,9e-14,8e-14],"tickSize":-3,"labels":false,"title":null}},
    "color":{"field":"s","type":"nominal","scale":{"domain":["a","b"],"range":["#000000","#777777"]},"legend":null}}},
  {"data":{"name":"lim"},"transform":[{"filter":"datum.p=='2111'"}],"mark":{"type":"rule","color":"#00ee00","strokeWidth":1.5},
   "encoding":{"x":{"field":"l","type":"quantitative","scale":{"type":"log","domain":[0.318,106],"nice":false},"axis":{"orient":"top","values":[1,10,100],"tickSize":-5,"labels":true,"labelBaseline":"middle","labelPadding":16.5,"labelExpr":"datum.value < 5 ? '1' : datum.value < 50 ? '10' : '100'","title":null}},
    "y":{"field":"f","type":"quantitative","scale":{"type":"log","domain":[7.2e-14,2.27e-12],"nice":false},"axis":{"orient":"right","values":[1e-12,1e-13],"tickSize":-5,"labels":false,"title":null}},
    "y2":{"field":"a"}}},
  {"data":{"name":"lim"},"transform":[{"filter":"datum.p=='2111'"}],"mark":{"type":"point","shape":"triangle-down","filled":true,"color":"#00ee00","size":55,"opacity":1},
   "encoding":{"x":{"field":"l","type":"quantitative","scale":{"type":"log","domain":[0.318,106],"nice":false},"axis":{"orient":"top","values":[0.4,0.5,0.6,0.7,0.8,0.9,2,3,4,5,6,7,8,9,20,30,40,50,60,70,80,90],"tickSize":-3,"labels":false,"title":null}},
    "y":{"field":"a","type":"quantitative","scale":{"type":"log","domain":[7.2e-14,2.27e-12],"nice":false},"axis":{"orient":"right","values":[2e-12,9e-13,8e-13,7e-13,6e-13,5e-13,4e-13,3e-13,2e-13,9e-14,8e-14],"tickSize":-3,"labels":false,"title":null}}}},
  {"data":{"name":"phot"},"transform":[{"filter":"datum.p=='2111'"}],"mark":{"type":"point","filled":true,"opacity":1},
   "encoding":{"x":{"field":"l","type":"quantitative","scale":{"type":"log","domain":[0.318,106],"nice":false},"axis":null},
    "y":{"field":"f","type":"quantitative","scale":{"type":"log","domain":[7.2e-14,2.27e-12],"nice":false},"axis":null},
    "shape":{"field":"t","type":"nominal","scale":{"domain":["opt","iras","msx"],"range":["triangle-up","square","circle"]},"legend":null},
    "color":{"field":"t","type":"nominal","scale":{"domain":["opt","iras","msx"],"range":["#ff0000","#00ff00","#0000ff"]},"legend":null},
    "size":{"field":"t","type":"nominal","scale":{"domain":["opt","iras","msx"],"range":[40,16,20]},"legend":null}}}
 ]},
{"width":183,"height":135,
 "resolve":{"axis":{"x":"independent","y":"independent"},"scale":{"color":"independent","shape":"independent","size":"independent","strokeWidth":"independent"}},
 "layer":[
  {"data":{"name":"txt"},"transform":[{"filter":"datum.p=='M142'"}],"mark":{"type":"text","align":"left","baseline":"middle","fontSize":9},
   "encoding":{"x":{"field":"l","type":"quantitative","scale":{"type":"log","domain":[0.318,106],"nice":false},"axis":{"orient":"bottom","values":[1,10,100],"tickSize":-5,"labels":false,"title":null}},
    "y":{"field":"f","type":"quantitative","scale":{"type":"log","domain":[3.16e-14,1e-11],"nice":false},"axis":{"orient":"left","values":[1e-11,1e-12,1e-13],"tickSize":-5,"labels":false,"title":null}},
    "text":{"field":"s"},
    "color":{"field":"k","type":"nominal","scale":{"domain":["lab","opt","iras","msx","iso"],"range":["#5a5a5a","#ff5050","#33dd33","#5050ff","#5a5a5a"]},"legend":null}}},
  {"data":{"name":"spk"},"transform":[{"filter":"datum.p=='M142'"}],"mark":{"type":"rule","color":"#555555","strokeWidth":0.9,"clip":true},
   "encoding":{"x":{"field":"l","type":"quantitative","scale":{"type":"log","domain":[0.318,106],"nice":false},"axis":null},
    "y":{"field":"f","type":"quantitative","scale":{"type":"log","domain":[3.16e-14,1e-11],"nice":false},"axis":null},"y2":{"field":"a"}}},
  {"data":{"name":"spec"},"transform":[{"filter":"datum.p=='M142'"}],"mark":{"type":"line","clip":true},
   "encoding":{"x":{"field":"l","type":"quantitative","scale":{"type":"log","domain":[0.318,106],"nice":false},"axis":{"orient":"bottom","values":[0.4,0.5,0.6,0.7,0.8,0.9,2,3,4,5,6,7,8,9,20,30,40,50,60,70,80,90],"tickSize":-3,"labels":false,"title":null}},
    "y":{"field":"f","type":"quantitative","scale":{"type":"log","domain":[3.16e-14,1e-11],"nice":false},"axis":{"orient":"left","values":[2e-12,3e-12,4e-12,5e-12,6e-12,7e-12,8e-12,9e-12,2e-13,3e-13,4e-13,5e-13,6e-13,7e-13,8e-13,9e-13,4e-14,5e-14,6e-14,7e-14,8e-14,9e-14],"tickSize":-3,"labels":false,"title":null}},
    "color":{"field":"s","type":"nominal","scale":{"domain":["a","b"],"range":["#000000","#777777"]},"legend":null},
    "strokeWidth":{"field":"s","type":"nominal","scale":{"domain":["a","b"],"range":[1.3,1.0]},"legend":null}}},
  {"data":{"name":"lim"},"transform":[{"filter":"datum.p=='M142'"}],"mark":{"type":"rule","color":"#00ee00","strokeWidth":1.5},
   "encoding":{"x":{"field":"l","type":"quantitative","scale":{"type":"log","domain":[0.318,106],"nice":false},"axis":{"orient":"top","values":[1,10,100],"tickSize":-5,"labels":true,"labelBaseline":"middle","labelPadding":16.5,"labelExpr":"datum.value < 5 ? '1' : datum.value < 50 ? '10' : '100'","title":null}},
    "y":{"field":"f","type":"quantitative","scale":{"type":"log","domain":[3.16e-14,1e-11],"nice":false},"axis":{"orient":"right","values":[1e-11,1e-12,1e-13],"tickSize":-5,"labels":true,"labelPadding":9.5,"labelExpr":"datum.value > 5e-12 ? '10⁻¹¹' : datum.value > 5e-13 ? '10⁻¹²' : datum.value > 5e-14 ? '10⁻¹³' : '10⁻¹⁴'","title":null}},
    "y2":{"field":"a"}}},
  {"data":{"name":"lim"},"transform":[{"filter":"datum.p=='M142'"}],"mark":{"type":"point","shape":"triangle-down","filled":true,"color":"#00ee00","size":70,"opacity":1},
   "encoding":{"x":{"field":"l","type":"quantitative","scale":{"type":"log","domain":[0.318,106],"nice":false},"axis":{"orient":"top","values":[0.4,0.5,0.6,0.7,0.8,0.9,2,3,4,5,6,7,8,9,20,30,40,50,60,70,80,90],"tickSize":-3,"labels":false,"title":null}},
    "y":{"field":"a","type":"quantitative","scale":{"type":"log","domain":[3.16e-14,1e-11],"nice":false},"axis":{"orient":"right","values":[2e-12,3e-12,4e-12,5e-12,6e-12,7e-12,8e-12,9e-12,2e-13,3e-13,4e-13,5e-13,6e-13,7e-13,8e-13,9e-13,4e-14,5e-14,6e-14,7e-14,8e-14,9e-14],"tickSize":-3,"labels":false,"title":null}}}},
  {"data":{"name":"phot"},"transform":[{"filter":"datum.p=='M142'"}],"mark":{"type":"point","filled":true,"opacity":1},
   "encoding":{"x":{"field":"l","type":"quantitative","scale":{"type":"log","domain":[0.318,106],"nice":false},"axis":null},
    "y":{"field":"f","type":"quantitative","scale":{"type":"log","domain":[3.16e-14,1e-11],"nice":false},"axis":null},
    "shape":{"field":"t","type":"nominal","scale":{"domain":["opt","iras","msx"],"range":["triangle-up","square","circle"]},"legend":null},
    "color":{"field":"t","type":"nominal","scale":{"domain":["opt","iras","msx"],"range":["#ff0000","#00ff00","#0000ff"]},"legend":null},
    "size":{"field":"t","type":"nominal","scale":{"domain":["opt","iras","msx"],"range":[40,16,20]},"legend":null}}}
 ]},
{"width":183,"height":135,
 "resolve":{"axis":{"x":"independent","y":"independent"},"scale":{"color":"independent","shape":"independent","size":"independent"}},
 "layer":[
  {"data":{"name":"txt"},"transform":[{"filter":"datum.p=='5882'"}],"mark":{"type":"text","align":"left","baseline":"middle","fontSize":9},
   "encoding":{"x":{"field":"l","type":"quantitative","scale":{"type":"log","domain":[0.318,106],"nice":false},"axis":{"orient":"bottom","values":[1,10,100],"tickSize":-5,"labels":false,"title":null}},
    "y":{"field":"f","type":"quantitative","scale":{"type":"log","domain":[5.85e-14,1.04e-11],"nice":false},"axis":{"orient":"left","values":[1e-11,1e-12,1e-13],"tickSize":-5,"labels":true,"labelPadding":9,"labelExpr":"datum.value > 5e-12 ? '10⁻¹¹' : datum.value > 5e-13 ? '10⁻¹²' : datum.value > 5e-14 ? '10⁻¹³' : '10⁻¹⁴'","title":null}},
    "text":{"field":"s"},
    "color":{"field":"k","type":"nominal","scale":{"domain":["lab","opt","iras","msx","iso"],"range":["#5a5a5a","#ff5050","#33dd33","#5050ff","#5a5a5a"]},"legend":null}}},
  {"data":{"name":"spec"},"transform":[{"filter":"datum.p=='5882'"}],"mark":{"type":"line","strokeWidth":0.8,"clip":true},
   "encoding":{"x":{"field":"l","type":"quantitative","scale":{"type":"log","domain":[0.318,106],"nice":false},"axis":{"orient":"bottom","values":[0.4,0.5,0.6,0.7,0.8,0.9,2,3,4,5,6,7,8,9,20,30,40,50,60,70,80,90],"tickSize":-3,"labels":false,"title":null}},
    "y":{"field":"f","type":"quantitative","scale":{"type":"log","domain":[5.85e-14,1.04e-11],"nice":false},"axis":{"orient":"left","values":[2e-12,3e-12,4e-12,5e-12,6e-12,7e-12,8e-12,9e-12,2e-13,3e-13,4e-13,5e-13,6e-13,7e-13,8e-13,9e-13,6e-14,7e-14,8e-14,9e-14],"tickSize":-3,"labels":false,"title":null}},
    "color":{"field":"s","type":"nominal","scale":{"domain":["a","b"],"range":["#000000","#777777"]},"legend":null}}},
  {"data":{"name":"lim"},"transform":[{"filter":"datum.p=='5882'"}],"mark":{"type":"rule","color":"#00ee00","strokeWidth":1.5},
   "encoding":{"x":{"field":"l","type":"quantitative","scale":{"type":"log","domain":[0.318,106],"nice":false},"axis":{"orient":"top","values":[1,10,100],"tickSize":-5,"labels":false,"title":null}},
    "y":{"field":"f","type":"quantitative","scale":{"type":"log","domain":[5.85e-14,1.04e-11],"nice":false},"axis":{"orient":"right","values":[1e-11,1e-12,1e-13],"tickSize":-5,"labels":false,"title":null}},
    "y2":{"field":"a"}}},
  {"data":{"name":"lim"},"transform":[{"filter":"datum.p=='5882'"}],"mark":{"type":"point","shape":"triangle-down","filled":true,"color":"#00ee00","size":50,"opacity":1},
   "encoding":{"x":{"field":"l","type":"quantitative","scale":{"type":"log","domain":[0.318,106],"nice":false},"axis":{"orient":"top","values":[0.4,0.5,0.6,0.7,0.8,0.9,2,3,4,5,6,7,8,9,20,30,40,50,60,70,80,90],"tickSize":-3,"labels":false,"title":null}},
    "y":{"field":"a","type":"quantitative","scale":{"type":"log","domain":[5.85e-14,1.04e-11],"nice":false},"axis":{"orient":"right","values":[2e-12,3e-12,4e-12,5e-12,6e-12,7e-12,8e-12,9e-12,2e-13,3e-13,4e-13,5e-13,6e-13,7e-13,8e-13,9e-13,6e-14,7e-14,8e-14,9e-14],"tickSize":-3,"labels":false,"title":null}}}},
  {"data":{"name":"phot"},"transform":[{"filter":"datum.p=='5882'"}],"mark":{"type":"point","filled":true,"opacity":1},
   "encoding":{"x":{"field":"l","type":"quantitative","scale":{"type":"log","domain":[0.318,106],"nice":false},"axis":null},
    "y":{"field":"f","type":"quantitative","scale":{"type":"log","domain":[5.85e-14,1.04e-11],"nice":false},"axis":null},
    "shape":{"field":"t","type":"nominal","scale":{"domain":["opt","iras","msx"],"range":["triangle-up","square","circle"]},"legend":null},
    "color":{"field":"t","type":"nominal","scale":{"domain":["opt","iras","msx"],"range":["#ff0000","#00ff00","#0000ff"]},"legend":null},
    "size":{"field":"t","type":"nominal","scale":{"domain":["opt","iras","msx"],"range":[40,16,20]},"legend":null}}}
 ]},
{"width":183,"height":135,
 "resolve":{"axis":{"x":"independent","y":"independent"},"scale":{"color":"independent","shape":"independent","size":"independent","fill":"independent","stroke":"independent"}},
 "layer":[
  {"data":{"name":"txt"},"transform":[{"filter":"datum.p=='2022'"}],"mark":{"type":"text","align":"left","baseline":"middle","fontSize":9},
   "encoding":{"x":{"field":"l","type":"quantitative","scale":{"type":"log","domain":[0.318,106],"nice":false},"axis":{"orient":"bottom","values":[1,10,100],"tickSize":-5,"labels":false,"title":null}},
    "y":{"field":"f","type":"quantitative","scale":{"type":"log","domain":[5.62e-14,1e-11],"nice":false},"axis":{"orient":"left","values":[1e-11,1e-12,1e-13],"tickSize":-5,"labels":false,"title":null}},
    "text":{"field":"s"},
    "color":{"field":"k","type":"nominal","scale":{"domain":["lab","opt","iras","msx","iso"],"range":["#5a5a5a","#ff5050","#33dd33","#5050ff","#5a5a5a"]},"legend":null}}},
  {"data":{"name":"spec"},"transform":[{"filter":"datum.p=='2022'"}],"mark":{"type":"line","strokeWidth":0.8,"clip":true},
   "encoding":{"x":{"field":"l","type":"quantitative","scale":{"type":"log","domain":[0.318,106],"nice":false},"axis":{"orient":"bottom","values":[0.4,0.5,0.6,0.7,0.8,0.9,2,3,4,5,6,7,8,9,20,30,40,50,60,70,80,90],"tickSize":-3,"labels":false,"title":null}},
    "y":{"field":"f","type":"quantitative","scale":{"type":"log","domain":[5.62e-14,1e-11],"nice":false},"axis":{"orient":"left","values":[2e-12,3e-12,4e-12,5e-12,6e-12,7e-12,8e-12,9e-12,2e-13,3e-13,4e-13,5e-13,6e-13,7e-13,8e-13,9e-13,6e-14,7e-14,8e-14,9e-14],"tickSize":-3,"labels":false,"title":null}},
    "color":{"field":"s","type":"nominal","scale":{"domain":["a","b"],"range":["#000000","#777777"]},"legend":null}}},
  {"data":{"name":"lim"},"transform":[{"filter":"datum.p=='2022'"}],"mark":{"type":"rule","color":"#00ee00","strokeWidth":1.5},
   "encoding":{"x":{"field":"l","type":"quantitative","scale":{"type":"log","domain":[0.318,106],"nice":false},"axis":{"orient":"top","values":[1,10,100],"tickSize":-5,"labels":false,"title":null}},
    "y":{"field":"f","type":"quantitative","scale":{"type":"log","domain":[5.62e-14,1e-11],"nice":false},"axis":{"orient":"right","values":[1e-11,1e-12,1e-13],"tickSize":-5,"labels":false,"title":null}},
    "y2":{"field":"a"}}},
  {"data":{"name":"lim"},"transform":[{"filter":"datum.p=='2022'"}],"mark":{"type":"point","shape":"triangle-down","filled":true,"color":"#00ee00","size":50,"opacity":1},
   "encoding":{"x":{"field":"l","type":"quantitative","scale":{"type":"log","domain":[0.318,106],"nice":false},"axis":{"orient":"top","values":[0.4,0.5,0.6,0.7,0.8,0.9,2,3,4,5,6,7,8,9,20,30,40,50,60,70,80,90],"tickSize":-3,"labels":false,"title":null}},
    "y":{"field":"a","type":"quantitative","scale":{"type":"log","domain":[5.62e-14,1e-11],"nice":false},"axis":{"orient":"right","values":[2e-12,3e-12,4e-12,5e-12,6e-12,7e-12,8e-12,9e-12,2e-13,3e-13,4e-13,5e-13,6e-13,7e-13,8e-13,9e-13,6e-14,7e-14,8e-14,9e-14],"tickSize":-3,"labels":false,"title":null}}}},
  {"data":{"name":"phot"},"transform":[{"filter":"datum.p=='2022'"}],"mark":{"type":"point","filled":true,"opacity":1},
   "encoding":{"x":{"field":"l","type":"quantitative","scale":{"type":"log","domain":[0.318,106],"nice":false},"axis":null},
    "y":{"field":"f","type":"quantitative","scale":{"type":"log","domain":[5.62e-14,1e-11],"nice":false},"axis":null},
    "shape":{"field":"t","type":"nominal","scale":{"domain":["opt","iras","msx"],"range":["triangle-up","square","circle"]},"legend":null},
    "color":{"field":"t","type":"nominal","scale":{"domain":["opt","iras","msx"],"range":["#ff0000","#00ff00","#0000ff"]},"legend":null},
    "size":{"field":"t","type":"nominal","scale":{"domain":["opt","iras","msx"],"range":[40,16,20]},"legend":null}}},
  {"data":{"name":"leg"},"mark":{"type":"point","filled":true,"opacity":1,"strokeWidth":1},
   "encoding":{"x":{"field":"l","type":"quantitative","scale":{"type":"log","domain":[0.318,106],"nice":false},"axis":null},
    "y":{"field":"f","type":"quantitative","scale":{"type":"log","domain":[5.62e-14,1e-11],"nice":false},"axis":null},
    "shape":{"field":"t","type":"nominal","scale":{"domain":["opt","iras","msx","iso"],"range":["triangle-up","square","circle","stroke"]},"legend":null},
    "fill":{"field":"t","type":"nominal","scale":{"domain":["opt","iras","msx","iso"],"range":["#ff0000","#00ff00","#0000ff","#555555"]},"legend":null},
    "stroke":{"field":"t","type":"nominal","scale":{"domain":["opt","iras","msx","iso"],"range":["#ff0000","#00ff00","#0000ff","#555555"]},"legend":null},
    "size":{"field":"t","type":"nominal","scale":{"domain":["opt","iras","msx","iso"],"range":[30,10,14,36]},"legend":null}}}
 ]},
{"width":183,"height":135,
 "resolve":{"axis":{"x":"independent","y":"independent"},"scale":{"color":"independent","shape":"independent","size":"independent","strokeWidth":"independent"}},
 "layer":[
  {"data":{"name":"txt"},"transform":[{"filter":"datum.p=='5315'"}],"mark":{"type":"text","align":"left","baseline":"middle","fontSize":9},
   "encoding":{"x":{"field":"l","type":"quantitative","scale":{"type":"log","domain":[0.318,106],"nice":false},"axis":{"orient":"bottom","values":[1,10,100],"tickSize":-5,"labels":false,"title":null}},
    "y":{"field":"f","type":"quantitative","scale":{"type":"log","domain":[2.68e-14,1.53e-11],"nice":false},"axis":{"orient":"left","values":[1e-11,1e-12,1e-13],"tickSize":-5,"labels":false,"title":null}},
    "text":{"field":"s"},
    "color":{"field":"k","type":"nominal","scale":{"domain":["lab","opt","iras","msx","iso"],"range":["#5a5a5a","#ff5050","#33dd33","#5050ff","#5a5a5a"]},"legend":null}}},
  {"data":{"name":"spk"},"transform":[{"filter":"datum.p=='5315'"}],"mark":{"type":"rule","color":"#888888","strokeWidth":0.9,"clip":true},
   "encoding":{"x":{"field":"l","type":"quantitative","scale":{"type":"log","domain":[0.318,106],"nice":false},"axis":null},
    "y":{"field":"f","type":"quantitative","scale":{"type":"log","domain":[2.68e-14,1.53e-11],"nice":false},"axis":null},"y2":{"field":"a"}}},
  {"data":{"name":"spec"},"transform":[{"filter":"datum.p=='5315'"}],"mark":{"type":"line","clip":true},
   "encoding":{"x":{"field":"l","type":"quantitative","scale":{"type":"log","domain":[0.318,106],"nice":false},"axis":{"orient":"bottom","values":[0.4,0.5,0.6,0.7,0.8,0.9,2,3,4,5,6,7,8,9,20,30,40,50,60,70,80,90],"tickSize":-3,"labels":false,"title":null}},
    "y":{"field":"f","type":"quantitative","scale":{"type":"log","domain":[2.68e-14,1.53e-11],"nice":false},"axis":{"orient":"left","values":[2e-12,3e-12,4e-12,5e-12,6e-12,7e-12,8e-12,9e-12,2e-13,3e-13,4e-13,5e-13,6e-13,7e-13,8e-13,9e-13,3e-14,4e-14,5e-14,6e-14,7e-14,8e-14,9e-14],"tickSize":-3,"labels":false,"title":null}},
    "color":{"field":"s","type":"nominal","scale":{"domain":["a","b"],"range":["#000000","#808080"]},"legend":null},
    "strokeWidth":{"field":"s","type":"nominal","scale":{"domain":["a","b"],"range":[1.4,1.2]},"legend":null}}},
  {"data":{"name":"lim"},"transform":[{"filter":"datum.p=='5315'"}],"mark":{"type":"rule","color":"#00ee00","strokeWidth":1.5},
   "encoding":{"x":{"field":"l","type":"quantitative","scale":{"type":"log","domain":[0.318,106],"nice":false},"axis":{"orient":"top","values":[1,10,100],"tickSize":-5,"labels":false,"title":null}},
    "y":{"field":"f","type":"quantitative","scale":{"type":"log","domain":[2.68e-14,1.53e-11],"nice":false},"axis":{"orient":"right","values":[1e-11,1e-12,1e-13],"tickSize":-5,"labels":true,"labelPadding":9.5,"labelExpr":"datum.value > 5e-12 ? '10⁻¹¹' : datum.value > 5e-13 ? '10⁻¹²' : datum.value > 5e-14 ? '10⁻¹³' : '10⁻¹⁴'","title":null}},
    "y2":{"field":"a"}}},
  {"data":{"name":"lim"},"transform":[{"filter":"datum.p=='5315'"}],"mark":{"type":"point","shape":"triangle-down","filled":true,"color":"#00ee00","size":50,"opacity":1},
   "encoding":{"x":{"field":"l","type":"quantitative","scale":{"type":"log","domain":[0.318,106],"nice":false},"axis":{"orient":"top","values":[0.4,0.5,0.6,0.7,0.8,0.9,2,3,4,5,6,7,8,9,20,30,40,50,60,70,80,90],"tickSize":-3,"labels":false,"title":null}},
    "y":{"field":"a","type":"quantitative","scale":{"type":"log","domain":[2.68e-14,1.53e-11],"nice":false},"axis":{"orient":"right","values":[2e-12,3e-12,4e-12,5e-12,6e-12,7e-12,8e-12,9e-12,2e-13,3e-13,4e-13,5e-13,6e-13,7e-13,8e-13,9e-13,3e-14,4e-14,5e-14,6e-14,7e-14,8e-14,9e-14],"tickSize":-3,"labels":false,"title":null}}}},
  {"data":{"name":"phot"},"transform":[{"filter":"datum.p=='5315'"}],"mark":{"type":"point","filled":true,"opacity":1},
   "encoding":{"x":{"field":"l","type":"quantitative","scale":{"type":"log","domain":[0.318,106],"nice":false},"axis":null},
    "y":{"field":"f","type":"quantitative","scale":{"type":"log","domain":[2.68e-14,1.53e-11],"nice":false},"axis":null},
    "shape":{"field":"t","type":"nominal","scale":{"domain":["opt","iras","msx"],"range":["triangle-up","square","circle"]},"legend":null},
    "color":{"field":"t","type":"nominal","scale":{"domain":["opt","iras","msx"],"range":["#ff0000","#00ff00","#0000ff"]},"legend":null},
    "size":{"field":"t","type":"nominal","scale":{"domain":["opt","iras","msx"],"range":[40,16,20]},"legend":null}}}
 ]},
{"width":183,"height":135,
 "resolve":{"axis":{"x":"independent","y":"independent"},"scale":{"color":"independent","shape":"independent","size":"independent","strokeWidth":"independent"}},
 "layer":[
  {"data":{"name":"txt"},"transform":[{"filter":"datum.p=='7662'"}],"mark":{"type":"text","align":"left","baseline":"middle","fontSize":9},
   "encoding":{"x":{"field":"l","type":"quantitative","scale":{"type":"log","domain":[0.318,106],"nice":false},"axis":{"orient":"bottom","values":[1,10,100],"tickSize":-5,"labels":false,"title":null}},
    "y":{"field":"f","type":"quantitative","scale":{"type":"log","domain":[1e-13,2.02e-11],"nice":false},"axis":{"orient":"left","values":[1e-11,1e-12,1e-13],"tickSize":-5,"labels":true,"labelPadding":9,"labelExpr":"datum.value > 5e-12 ? '10⁻¹¹' : datum.value > 5e-13 ? '10⁻¹²' : datum.value > 5e-14 ? '10⁻¹³' : '10⁻¹⁴'","title":null}},
    "text":{"field":"s"},
    "color":{"field":"k","type":"nominal","scale":{"domain":["lab","opt","iras","msx","iso"],"range":["#5a5a5a","#ff5050","#33dd33","#5050ff","#5a5a5a"]},"legend":null}}},
  {"data":{"name":"spk"},"transform":[{"filter":"datum.p=='7662'"}],"mark":{"type":"rule","color":"#555555","strokeWidth":0.9,"clip":true},
   "encoding":{"x":{"field":"l","type":"quantitative","scale":{"type":"log","domain":[0.318,106],"nice":false},"axis":null},
    "y":{"field":"f","type":"quantitative","scale":{"type":"log","domain":[1e-13,2.02e-11],"nice":false},"axis":null},"y2":{"field":"a"}}},
  {"data":{"name":"spec"},"transform":[{"filter":"datum.p=='7662'"}],"mark":{"type":"line","clip":true},
   "encoding":{"x":{"field":"l","type":"quantitative","scale":{"type":"log","domain":[0.318,106],"nice":false},"axis":{"orient":"bottom","values":[0.4,0.5,0.6,0.7,0.8,0.9,2,3,4,5,6,7,8,9,20,30,40,50,60,70,80,90],"tickSize":-3,"labels":false,"title":null}},
    "y":{"field":"f","type":"quantitative","scale":{"type":"log","domain":[1e-13,2.02e-11],"nice":false},"axis":{"orient":"left","values":[2e-11,2e-12,3e-12,4e-12,5e-12,6e-12,7e-12,8e-12,9e-12,2e-13,3e-13,4e-13,5e-13,6e-13,7e-13,8e-13,9e-13],"tickSize":-3,"labels":false,"title":null}},
    "color":{"field":"s","type":"nominal","scale":{"domain":["a","b"],"range":["#000000","#777777"]},"legend":null},
    "strokeWidth":{"field":"s","type":"nominal","scale":{"domain":["a","b"],"range":[1.3,1.0]},"legend":null}}},
  {"data":{"name":"lim"},"transform":[{"filter":"datum.p=='7662'"}],"mark":{"type":"rule","color":"#00ee00","strokeWidth":1.5},
   "encoding":{"x":{"field":"l","type":"quantitative","scale":{"type":"log","domain":[0.318,106],"nice":false},"axis":{"orient":"top","values":[1,10,100],"tickSize":-5,"labels":false,"title":null}},
    "y":{"field":"f","type":"quantitative","scale":{"type":"log","domain":[1e-13,2.02e-11],"nice":false},"axis":{"orient":"right","values":[1e-11,1e-12,1e-13],"tickSize":-5,"labels":false,"title":null}},
    "y2":{"field":"a"}}},
  {"data":{"name":"lim"},"transform":[{"filter":"datum.p=='7662'"}],"mark":{"type":"point","shape":"triangle-down","filled":true,"color":"#00ee00","size":50,"opacity":1},
   "encoding":{"x":{"field":"l","type":"quantitative","scale":{"type":"log","domain":[0.318,106],"nice":false},"axis":{"orient":"top","values":[0.4,0.5,0.6,0.7,0.8,0.9,2,3,4,5,6,7,8,9,20,30,40,50,60,70,80,90],"tickSize":-3,"labels":false,"title":null}},
    "y":{"field":"a","type":"quantitative","scale":{"type":"log","domain":[1e-13,2.02e-11],"nice":false},"axis":{"orient":"right","values":[2e-11,2e-12,3e-12,4e-12,5e-12,6e-12,7e-12,8e-12,9e-12,2e-13,3e-13,4e-13,5e-13,6e-13,7e-13,8e-13,9e-13],"tickSize":-3,"labels":false,"title":null}}}},
  {"data":{"name":"phot"},"transform":[{"filter":"datum.p=='7662'"}],"mark":{"type":"point","filled":true,"opacity":1},
   "encoding":{"x":{"field":"l","type":"quantitative","scale":{"type":"log","domain":[0.318,106],"nice":false},"axis":null},
    "y":{"field":"f","type":"quantitative","scale":{"type":"log","domain":[1e-13,2.02e-11],"nice":false},"axis":null},
    "shape":{"field":"t","type":"nominal","scale":{"domain":["opt","iras","msx"],"range":["triangle-up","square","circle"]},"legend":null},
    "color":{"field":"t","type":"nominal","scale":{"domain":["opt","iras","msx"],"range":["#ff0000","#00ff00","#0000ff"]},"legend":null},
    "size":{"field":"t","type":"nominal","scale":{"domain":["opt","iras","msx"],"range":[40,16,20]},"legend":null}}}
 ]},
{"width":183,"height":135,
 "resolve":{"axis":{"x":"independent","y":"independent"},"scale":{"color":"independent","shape":"independent","size":"independent","strokeWidth":"independent"}},
 "layer":[
  {"data":{"name":"txt"},"transform":[{"filter":"datum.p=='6537'"}],"mark":{"type":"text","align":"left","baseline":"middle","fontSize":9},
   "encoding":{"x":{"field":"l","type":"quantitative","scale":{"type":"log","domain":[0.318,106],"nice":false},"axis":{"orient":"bottom","values":[1,10,100],"tickSize":-5,"labels":true,"labelBaseline":"middle","labelPadding":10.5,"labelExpr":"datum.value < 5 ? '1' : datum.value < 50 ? '10' : '100'","title":null}},
    "y":{"field":"f","type":"quantitative","scale":{"type":"log","domain":[6.7e-14,2e-11],"nice":false},"axis":{"orient":"left","values":[1e-11,1e-12,1e-13],"tickSize":-5,"labels":false,"title":null}},
    "text":{"field":"s"},
    "color":{"field":"k","type":"nominal","scale":{"domain":["lab","opt","iras","msx","iso"],"range":["#5a5a5a","#ff5050","#33dd33","#5050ff","#5a5a5a"]},"legend":null}}},
  {"data":{"name":"spk"},"transform":[{"filter":"datum.p=='6537'"}],"mark":{"type":"rule","color":"#777777","strokeWidth":0.9,"clip":true},
   "encoding":{"x":{"field":"l","type":"quantitative","scale":{"type":"log","domain":[0.318,106],"nice":false},"axis":null},
    "y":{"field":"f","type":"quantitative","scale":{"type":"log","domain":[6.7e-14,2e-11],"nice":false},"axis":null},"y2":{"field":"a"}}},
  {"data":{"name":"spec"},"transform":[{"filter":"datum.p=='6537'"}],"mark":{"type":"line","clip":true},
   "encoding":{"x":{"field":"l","type":"quantitative","scale":{"type":"log","domain":[0.318,106],"nice":false},"axis":{"orient":"bottom","values":[0.4,0.5,0.6,0.7,0.8,0.9,2,3,4,5,6,7,8,9,20,30,40,50,60,70,80,90],"tickSize":-3,"labels":false,"title":null}},
    "y":{"field":"f","type":"quantitative","scale":{"type":"log","domain":[6.7e-14,2e-11],"nice":false},"axis":{"orient":"left","values":[2e-12,3e-12,4e-12,5e-12,6e-12,7e-12,8e-12,9e-12,2e-13,3e-13,4e-13,5e-13,6e-13,7e-13,8e-13,9e-13,7e-14,8e-14,9e-14],"tickSize":-3,"labels":false,"title":null}},
    "color":{"field":"s","type":"nominal","scale":{"domain":["a","b"],"range":["#000000","#6a6a6a"]},"legend":null},
    "strokeWidth":{"field":"s","type":"nominal","scale":{"domain":["a","b"],"range":[2.2,1.2]},"legend":null}}},
  {"data":{"name":"lim"},"transform":[{"filter":"datum.p=='6537'"}],"mark":{"type":"rule","color":"#00ee00","strokeWidth":1.5},
   "encoding":{"x":{"field":"l","type":"quantitative","scale":{"type":"log","domain":[0.318,106],"nice":false},"axis":{"orient":"top","values":[1,10,100],"tickSize":-5,"labels":false,"title":null}},
    "y":{"field":"f","type":"quantitative","scale":{"type":"log","domain":[6.7e-14,2e-11],"nice":false},"axis":{"orient":"right","values":[1e-11,1e-12,1e-13],"tickSize":-5,"labels":false,"title":null}},
    "y2":{"field":"a"}}},
  {"data":{"name":"lim"},"transform":[{"filter":"datum.p=='6537'"}],"mark":{"type":"point","shape":"triangle-down","filled":true,"color":"#00ee00","size":50,"opacity":1},
   "encoding":{"x":{"field":"l","type":"quantitative","scale":{"type":"log","domain":[0.318,106],"nice":false},"axis":{"orient":"top","values":[0.4,0.5,0.6,0.7,0.8,0.9,2,3,4,5,6,7,8,9,20,30,40,50,60,70,80,90],"tickSize":-3,"labels":false,"title":null}},
    "y":{"field":"a","type":"quantitative","scale":{"type":"log","domain":[6.7e-14,2e-11],"nice":false},"axis":{"orient":"right","values":[2e-12,3e-12,4e-12,5e-12,6e-12,7e-12,8e-12,9e-12,2e-13,3e-13,4e-13,5e-13,6e-13,7e-13,8e-13,9e-13,7e-14,8e-14,9e-14],"tickSize":-3,"labels":false,"title":null}}}},
  {"data":{"name":"phot"},"transform":[{"filter":"datum.p=='6537'"}],"mark":{"type":"point","filled":true,"opacity":1},
   "encoding":{"x":{"field":"l","type":"quantitative","scale":{"type":"log","domain":[0.318,106],"nice":false},"axis":null},
    "y":{"field":"f","type":"quantitative","scale":{"type":"log","domain":[6.7e-14,2e-11],"nice":false},"axis":null},
    "shape":{"field":"t","type":"nominal","scale":{"domain":["opt","iras","msx"],"range":["triangle-up","square","circle"]},"legend":null},
    "color":{"field":"t","type":"nominal","scale":{"domain":["opt","iras","msx"],"range":["#ff0000","#00ff00","#0000ff"]},"legend":null},
    "size":{"field":"t","type":"nominal","scale":{"domain":["opt","iras","msx"],"range":[40,16,20]},"legend":null}}}
 ]},
{"width":183,"height":135,
 "resolve":{"axis":{"x":"independent","y":"independent"},"scale":{"color":"independent","shape":"independent","size":"independent","strokeWidth":"independent"}},
 "layer":[
  {"data":{"name":"txt"},"transform":[{"filter":"datum.p=='6741'"}],"mark":{"type":"text","align":"left","baseline":"middle","fontSize":9},
   "encoding":{"x":{"field":"l","type":"quantitative","scale":{"type":"log","domain":[0.318,106],"nice":false},"axis":{"orient":"bottom","values":[1,10,100],"tickSize":-5,"labels":true,"labelBaseline":"middle","labelPadding":10.5,"labelExpr":"datum.value < 5 ? '1' : datum.value < 50 ? '10' : '100'","title":null}},
    "y":{"field":"f","type":"quantitative","scale":{"type":"log","domain":[1e-14,1e-11],"nice":false},"axis":{"orient":"left","values":[1e-11,1e-12,1e-13,1e-14],"tickSize":-5,"labels":false,"title":null}},
    "text":{"field":"s"},
    "color":{"field":"k","type":"nominal","scale":{"domain":["lab","opt","iras","msx","iso"],"range":["#5a5a5a","#ff5050","#33dd33","#5050ff","#5a5a5a"]},"legend":null}}},
  {"data":{"name":"spec"},"transform":[{"filter":"datum.p=='6741'"}],"mark":{"type":"line","clip":true},
   "encoding":{"x":{"field":"l","type":"quantitative","scale":{"type":"log","domain":[0.318,106],"nice":false},"axis":{"orient":"bottom","values":[0.4,0.5,0.6,0.7,0.8,0.9,2,3,4,5,6,7,8,9,20,30,40,50,60,70,80,90],"tickSize":-3,"labels":false,"title":null}},
    "y":{"field":"f","type":"quantitative","scale":{"type":"log","domain":[1e-14,1e-11],"nice":false},"axis":{"orient":"left","values":[2e-12,3e-12,4e-12,5e-12,6e-12,7e-12,8e-12,9e-12,2e-13,3e-13,4e-13,5e-13,6e-13,7e-13,8e-13,9e-13,2e-14,3e-14,4e-14,5e-14,6e-14,7e-14,8e-14,9e-14],"tickSize":-3,"labels":false,"title":null}},
    "color":{"field":"s","type":"nominal","scale":{"domain":["a","b"],"range":["#111111","#777777"]},"legend":null},
    "strokeWidth":{"field":"s","type":"nominal","scale":{"domain":["a","b"],"range":[1.1,1.0]},"legend":null}}},
  {"data":{"name":"lim"},"transform":[{"filter":"datum.p=='6741'"}],"mark":{"type":"rule","color":"#00ee00","strokeWidth":1.5},
   "encoding":{"x":{"field":"l","type":"quantitative","scale":{"type":"log","domain":[0.318,106],"nice":false},"axis":{"orient":"top","values":[1,10,100],"tickSize":-5,"labels":false,"title":null}},
    "y":{"field":"f","type":"quantitative","scale":{"type":"log","domain":[1e-14,1e-11],"nice":false},"axis":{"orient":"right","values":[1e-11,1e-12,1e-13,1e-14],"tickSize":-5,"labels":true,"labelPadding":9.5,"labelExpr":"datum.value > 5e-12 ? '10⁻¹¹' : datum.value > 5e-13 ? '10⁻¹²' : datum.value > 5e-14 ? '10⁻¹³' : '10⁻¹⁴'","title":null}},
    "y2":{"field":"a"}}},
  {"data":{"name":"lim"},"transform":[{"filter":"datum.p=='6741'"}],"mark":{"type":"point","shape":"triangle-down","filled":true,"color":"#00ee00","size":70,"opacity":1},
   "encoding":{"x":{"field":"l","type":"quantitative","scale":{"type":"log","domain":[0.318,106],"nice":false},"axis":{"orient":"top","values":[0.4,0.5,0.6,0.7,0.8,0.9,2,3,4,5,6,7,8,9,20,30,40,50,60,70,80,90],"tickSize":-3,"labels":false,"title":null}},
    "y":{"field":"a","type":"quantitative","scale":{"type":"log","domain":[1e-14,1e-11],"nice":false},"axis":{"orient":"right","values":[2e-12,3e-12,4e-12,5e-12,6e-12,7e-12,8e-12,9e-12,2e-13,3e-13,4e-13,5e-13,6e-13,7e-13,8e-13,9e-13,2e-14,3e-14,4e-14,5e-14,6e-14,7e-14,8e-14,9e-14],"tickSize":-3,"labels":false,"title":null}}}},
  {"data":{"name":"phot"},"transform":[{"filter":"datum.p=='6741'"}],"mark":{"type":"point","filled":true,"opacity":1},
   "encoding":{"x":{"field":"l","type":"quantitative","scale":{"type":"log","domain":[0.318,106],"nice":false},"axis":null},
    "y":{"field":"f","type":"quantitative","scale":{"type":"log","domain":[1e-14,1e-11],"nice":false},"axis":null},
    "shape":{"field":"t","type":"nominal","scale":{"domain":["opt","iras","msx"],"range":["triangle-up","square","circle"]},"legend":null},
    "color":{"field":"t","type":"nominal","scale":{"domain":["opt","iras","msx"],"range":["#ff0000","#00ff00","#0000ff"]},"legend":null},
    "size":{"field":"t","type":"nominal","scale":{"domain":["opt","iras","msx"],"range":[40,16,20]},"legend":null}}}
 ]}
]
}
